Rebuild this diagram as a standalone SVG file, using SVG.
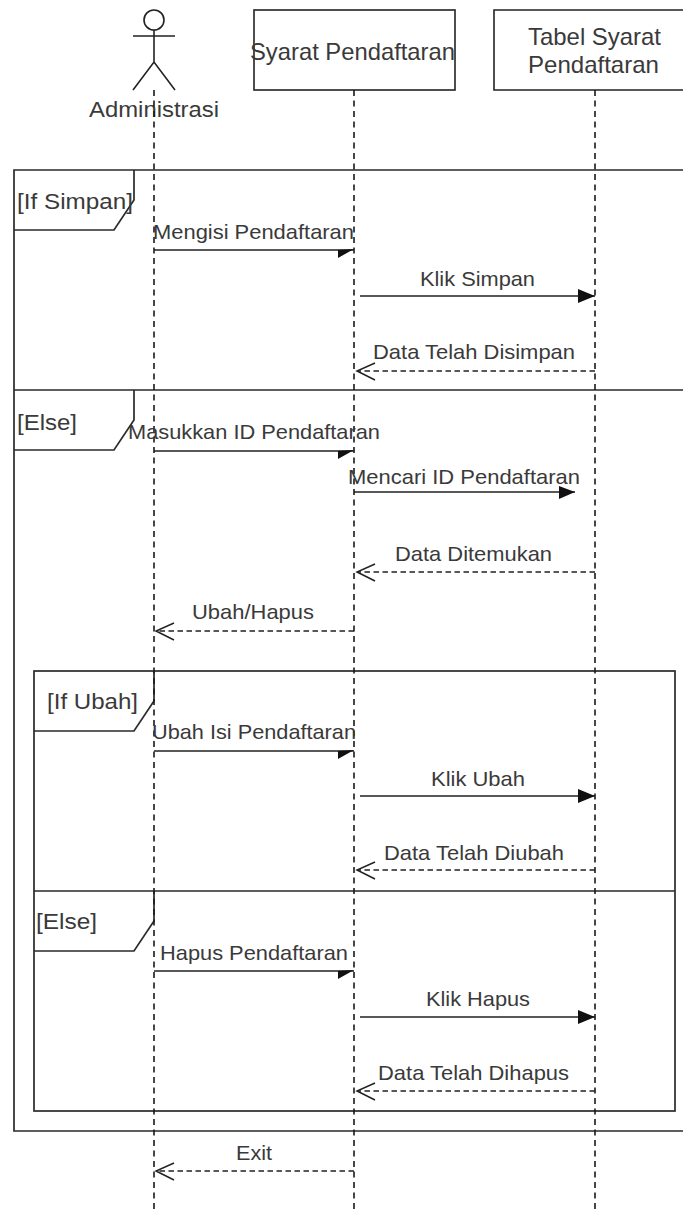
<svg xmlns="http://www.w3.org/2000/svg" width="683" height="1209" viewBox="0 0 683 1209">
<style>
text{font-family:"Liberation Sans",Arial,sans-serif;font-size:21px;fill:#3a3a3a}
.big{font-size:24px}
.mid{font-size:22.5px}
.s{fill:none;stroke:#222;stroke-width:1.6}
.f{fill:none;stroke:#2a2a2a;stroke-width:1.7}
.life{fill:none;stroke:#1a1a1a;stroke-width:1.6;stroke-dasharray:6 4.5}
.msg{fill:none;stroke:#222;stroke-width:1.7}
.ret{fill:none;stroke:#222;stroke-width:1.5;stroke-dasharray:5.5 3.5}
.open{fill:none;stroke:#222;stroke-width:1.5}
.head{fill:#111;stroke:none}
</style>
<rect width="683" height="1209" fill="#fff"/>
<g id="frames">
<path class="f" d="M683 170H14V1131H683M14 390H683"/>
<path class="f" d="M14 230H114L134 200V170M14 450H114L134 420V390"/>
<rect class="f" x="34" y="671" width="641" height="440"/>
<path class="f" d="M34 891H675M34 731H134L154 701V671M34 951H134L154 921V891"/>
<text class="mid" x="17" y="209" textLength="116" lengthAdjust="spacingAndGlyphs">[If Simpan]</text>
<text class="mid" x="17" y="430" textLength="60" lengthAdjust="spacingAndGlyphs">[Else]</text>
<text class="mid" x="47" y="709" textLength="91" lengthAdjust="spacingAndGlyphs">[If Ubah]</text>
<text class="mid" x="36" y="929" textLength="61" lengthAdjust="spacingAndGlyphs">[Else]</text>
</g>
<g id="node-administrasi">
<circle class="s" cx="154" cy="20" r="10"/>
<path class="s" d="M154 30V62M133 36H175M133 90L154 62L175 90"/>
<text class="mid" x="89" y="117" textLength="130" lengthAdjust="spacingAndGlyphs">Administrasi</text>
</g>
<g id="node-syarat">
<rect class="s" x="254" y="10" width="201" height="80"/>
<text class="big" x="250" y="60" textLength="205" lengthAdjust="spacingAndGlyphs">Syarat Pendaftaran</text>
</g>
<g id="node-tabel">
<path class="s" d="M683 10H494V90H683"/>
<text class="big" x="528" y="45" textLength="133" lengthAdjust="spacingAndGlyphs">Tabel Syarat</text>
<text class="big" x="528" y="73" textLength="131" lengthAdjust="spacingAndGlyphs">Pendaftaran</text>
</g>
<g id="connectors">
<path class="life" d="M154 90V1209M354 90V1209M595 90V1209"/>
<path class="msg" d="M154 250H354M360 296H595M154 451H354M354 492H575M154 751H354M360 796H595M154 971H354M360 1017H595"/>
<path class="head" d="M354 249L338 250V258ZM354 450L338 451V459ZM354 750L338 751V759ZM354 970L338 971V979Z"/>
<path class="head" d="M595 296L578 289V303ZM575 492L559 486V499ZM595 796L578 789V803ZM595 1017L578 1010V1024Z"/>
<path class="ret" d="M595 371H358M595 572H358M354 631H158M595 870H358M595 1091H358M354 1171H158"/>
<path class="open" d="M375 363L357 371L375 380M375 564L357 572L375 581M174 623L156 631L174 640M375 862L357 870L375 879M375 1083L357 1091L375 1100M174 1163L156 1171L174 1180"/>
</g>
<g id="labels">
<text x="153" y="239" textLength="201" lengthAdjust="spacingAndGlyphs">Mengisi Pendaftaran</text>
<text x="420" y="286" textLength="115" lengthAdjust="spacingAndGlyphs">Klik Simpan</text>
<text x="373" y="359" textLength="202" lengthAdjust="spacingAndGlyphs">Data Telah Disimpan</text>
<text x="128" y="439" textLength="252" lengthAdjust="spacingAndGlyphs">Masukkan ID Pendaftaran</text>
<text x="348" y="484" textLength="232" lengthAdjust="spacingAndGlyphs">Mencari ID Pendaftaran</text>
<text x="395" y="561" textLength="157" lengthAdjust="spacingAndGlyphs">Data Ditemukan</text>
<text x="192" y="619" textLength="122" lengthAdjust="spacingAndGlyphs">Ubah/Hapus</text>
<text x="152" y="739" textLength="204" lengthAdjust="spacingAndGlyphs">Ubah Isi Pendaftaran</text>
<text x="431" y="786" textLength="94" lengthAdjust="spacingAndGlyphs">Klik Ubah</text>
<text x="384" y="860" textLength="180" lengthAdjust="spacingAndGlyphs">Data Telah Diubah</text>
<text x="160" y="960" textLength="188" lengthAdjust="spacingAndGlyphs">Hapus Pendaftaran</text>
<text x="426" y="1006" textLength="104" lengthAdjust="spacingAndGlyphs">Klik Hapus</text>
<text x="378" y="1080" textLength="191" lengthAdjust="spacingAndGlyphs">Data Telah Dihapus</text>
<text x="236" y="1160" textLength="36" lengthAdjust="spacingAndGlyphs">Exit</text>
</g>
</svg>
